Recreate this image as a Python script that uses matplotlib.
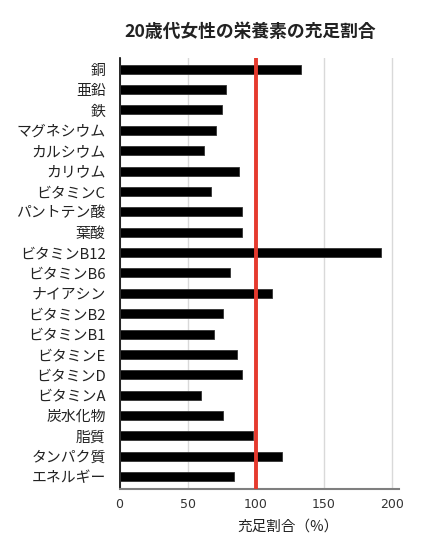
import matplotlib
matplotlib.use("Agg")
import matplotlib.pyplot as plt
import numpy as np

plt.rcParams['font.family'] = ['Noto Sans CJK JP', 'DejaVu Sans']

title = "20歳代女性の栄養素の充足割合"
nutrients = ["銅", "亜鉛", "鉄", "マグネシウム", "カルシウム", "カリウム", "ビタミンC",
             "パントテン酸", "葉酸", "ビタミンB12", "ビタミンB6", "ナイアシン",
             "ビタミンB2", "ビタミンB1", "ビタミンE", "ビタミンD", "ビタミンA",
             "炭水化物", "脂質", "タンパク質", "エネルギー"]
values = [133, 78, 75, 71, 62, 88, 67, 90, 90, 192, 81, 112,
          76, 69, 86, 90, 60, 76, 98, 119, 84]
reference_value = 100
x_ticks = [0, 50, 100, 150, 200]
x_label = "充足割合（%）"

fig = plt.figure(figsize=(4.29, 5.44), dpi=100)
ax = fig.add_axes([0.2786, 0.1005, 0.930 - 0.2786, 0.893 - 0.1005])

y = np.arange(len(nutrients))
ax.barh(y, values, height=0.44, color='black', edgecolor='#333333', linewidth=0.6, zorder=3)
ax.axvline(reference_value, color='#e53a2e', linewidth=2.8, zorder=4)

ax.set_xlim(0, 205)
ax.set_ylim(len(nutrients) - 1 + 0.62, -0.54)
ax.set_yticks(y)
ax.set_yticklabels(nutrients, fontsize=10.7, color='#222222')
ax.set_xticks(x_ticks)
ax.set_xticklabels([str(t) for t in x_ticks], fontsize=9, color='#333333', family='DejaVu Sans')
ax.tick_params(axis='both', length=0)
ax.tick_params(axis='x', pad=6)
ax.tick_params(axis='y', pad=10)

ax.grid(axis='x', color='#d9d9d9', linewidth=1.0, zorder=0)
ax.set_axisbelow(True)
for s in ['top', 'right']:
    ax.spines[s].set_visible(False)
ax.spines['left'].set_color('black')
ax.spines['left'].set_linewidth(1.2)
ax.spines['bottom'].set_color('#7f7f7f')
ax.spines['bottom'].set_linewidth(1.5)

fig.text(250 / 429, 1 - 32 / 544, title, fontsize=12.8, fontweight='bold',
         ha='center', va='center', color='#222222')
fig.text(288 / 429, 1 - 527 / 544, x_label, fontsize=10.5, ha='center', va='center', color='#222222')

fig.savefig("out.png", dpi=100)
